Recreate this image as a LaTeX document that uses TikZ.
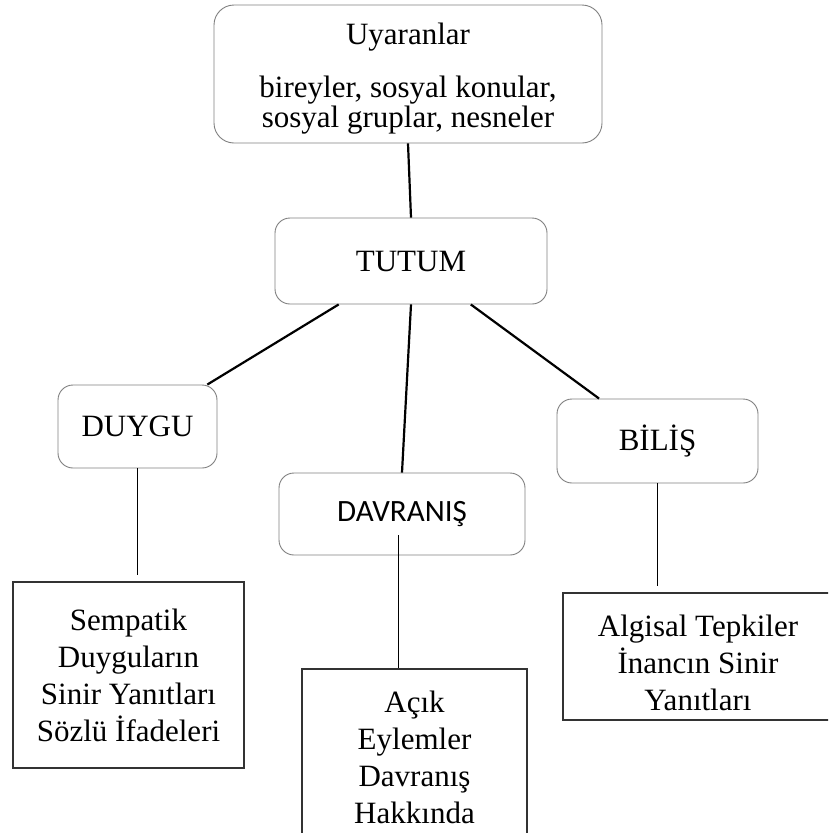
\documentclass[tikz,border=0pt]{standalone}
\usepackage{fontspec}
\setmainfont{Liberation Serif}
\newfontfamily\calibri{Carlito}
\begin{document}
\begin{tikzpicture}[x=1pt,y=-1pt,
kutu/.style={draw=black!50,line width=0.9pt,rounded corners=15pt,align=center,inner sep=0pt},
cerceve/.style={draw=black!80,line width=1.2pt,align=center,inner sep=0pt},
kalin/.style={line width=2.2pt},
ince/.style={line width=1pt}]
\clip (0,0) rectangle (828,833);
\fill[white] (0,0) rectangle (828,833);
\fontsize{31}{37}\selectfont
\node[kutu,rounded corners=20pt,minimum width=388pt,minimum height=138pt] (uyar) at (408,74)
{\fontsize{31}{29}\selectfont\begin{tabular}{@{}c@{}}
\rule{0pt}{33pt}Uyaranlar\\[22pt] bireyler, sosyal konular,\\ sosyal gruplar, nesneler
\end{tabular}};
\node[kutu,minimum width=272pt,minimum height=86pt] (tutum) at (411,261) {TUTUM};
\node[kutu,minimum width=159pt,minimum height=83pt] (duygu) at (137.5,426.5) {DUYGU};
\node[kutu,minimum width=246pt,minimum height=82pt] (dav) at (402,514) {\calibri DAVRANIŞ};
\node[kutu,minimum width=201pt,minimum height=84pt] (bilis) at (657.5,441) {BİLİŞ};
\node[cerceve,minimum width=231pt,minimum height=186pt] (semp) at (128.5,675)
{Sempatik\\ Duyguların\\ Sinir Yanıtları\\ Sözlü İfadeleri};
\node[cerceve,minimum width=225pt,minimum height=176pt] (acik) at (414.5,757)
{Açık\\ Eylemler\\ Davranış\\ Hakkında};
\node[cerceve,minimum width=270pt,minimum height=127pt] (alg) at (698,656.5)
{\fontsize{31}{34}\selectfont\rule{0pt}{35pt}Algisal Tepkiler\\ İnancın Sinir\\ Yanıtları};
\coordinate (davalt) at (398,535);
% baglantilar
\draw[kalin] (uyar.south) -- (tutum.north);
\draw[kalin] (tutum.211) -- (duygu.31);
\draw[kalin] (tutum.south) -- (dav.north);
\draw[kalin] (tutum.324) -- (bilis.144);
\draw[ince] (duygu.south) -- ([yshift=6pt]duygu.south |- semp.north);
\draw[ince] (davalt) -- (davalt |- acik.north);
\draw[ince] (bilis.south) -- ([yshift=6pt]bilis.south |- alg.north);
\end{tikzpicture}
\end{document}
